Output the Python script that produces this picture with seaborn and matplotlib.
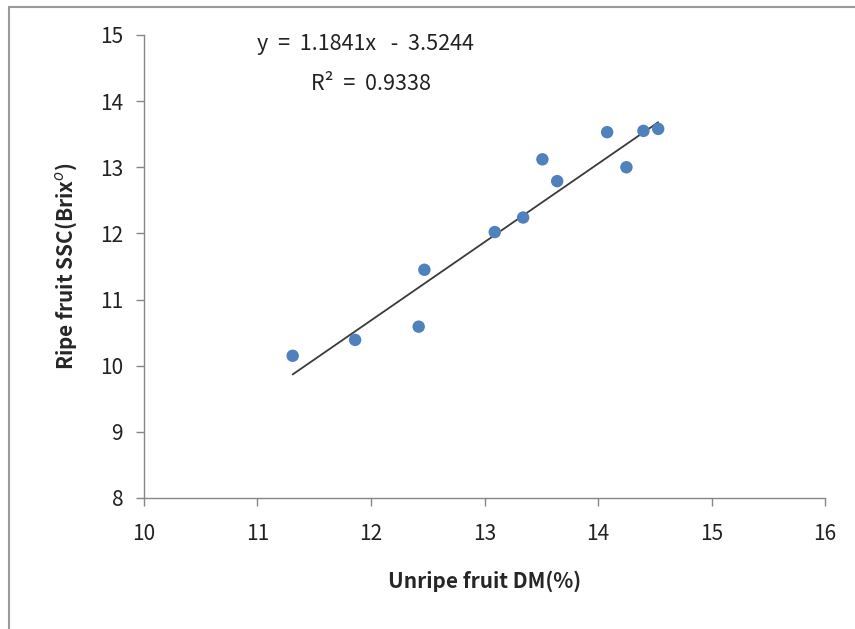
import numpy as np
import pandas as pd
import matplotlib
matplotlib.use("Agg")
import matplotlib.pyplot as plt
import seaborn as sns

# Data
unripe_dm = [11.31, 11.86, 12.42, 12.47, 13.09, 13.34, 13.51, 13.64, 14.08, 14.25, 14.40, 14.53]
ripe_ssc = [10.15, 10.39, 10.59, 11.45, 12.02, 12.24, 13.12, 12.79, 13.53, 13.00, 13.55, 13.58]

# Trendline from the chart label
slope = 1.1841
intercept = -3.5244
r_squared = 0.9338

x_ticks = [10, 11, 12, 13, 14, 15, 16]
y_ticks = [8, 9, 10, 11, 12, 13, 14, 15]

df = pd.DataFrame({"dm": unripe_dm, "ssc": ripe_ssc})

sns.set_style("white")
plt.rcParams['font.family'] = ['Noto Sans CJK KR', 'DejaVu Sans']

fig = plt.figure(figsize=(8.55, 6.29), dpi=100)
ax = fig.add_axes([0.1684, 0.2083, 0.7966, 0.7361])

# trend line
line_x = np.array([min(unripe_dm), max(unripe_dm)])
line_df = pd.DataFrame({"x": line_x, "y": slope * line_x + intercept})
sns.lineplot(data=line_df, x="x", y="y", ax=ax, color="#3a3a3a", linewidth=1.3, zorder=2)

sns.scatterplot(data=df, x="dm", y="ssc", ax=ax, color="#4F81BD", s=80,
                edgecolor="none", zorder=3)

ax.set_xlim(10, 16)
ax.set_ylim(8, 15)
ax.set_xticks(x_ticks)
ax.set_yticks(y_ticks)
ax.tick_params(axis="both", bottom=True, left=True, labelsize=15, length=6, width=1,
               color="#868686", direction="out", labelcolor="#222222")
ax.tick_params(axis="x", pad=12)
ax.tick_params(axis="y", pad=9)

for side in ["top", "right"]:
    ax.spines[side].set_visible(False)
for side in ["left", "bottom"]:
    ax.spines[side].set_color("#868686")
    ax.spines[side].set_linewidth(1)

ax.set_xlabel("Unripe fruit DM(%)", fontsize=15, fontweight="bold", labelpad=18)
ax.set_ylabel("Ripe fruit SSC(Brix$^{o}$)", fontsize=15, fontweight="bold", labelpad=15)

ax.text(11.95, 14.86, f"y  =  {slope}x   -  {abs(intercept)}", fontsize=15.5,
        ha="center", va="center", color="#222222")
ax.text(12.0, 14.26, f"R²  =  {r_squared}", fontsize=15.5,
        ha="center", va="center", color="#222222")

# chart frame (left and top edges visible)
fig.add_artist(plt.Line2D([0.0105, 0.0105], [0, 0.989], color="#9a9a9a", linewidth=1.5))
fig.add_artist(plt.Line2D([0.0105, 1], [0.989, 0.989], color="#9a9a9a", linewidth=1.5))

fig.savefig("out.png", dpi=100)
